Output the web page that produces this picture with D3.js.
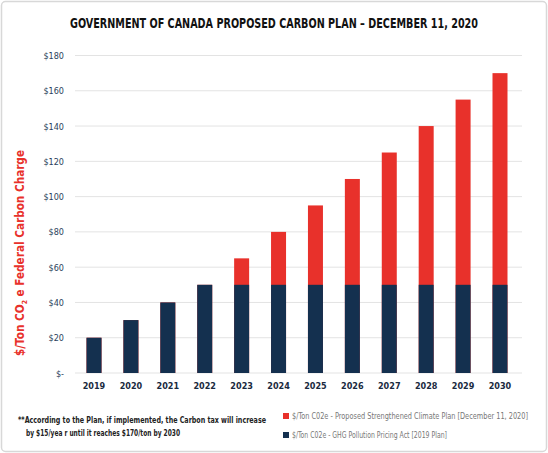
<!DOCTYPE html>
<html><head><meta charset="utf-8">
<script src="https://cdn.jsdelivr.net/npm/d3@7"></script>
<style>body{margin:0;background:#fff}text{font-family:"DejaVu Sans Condensed","DejaVu Sans",sans-serif}</style>
</head><body>
<svg id="chart" width="548" height="453"></svg>
<script>
// data
let years = ["2019","2020","2021","2022","2023","2024","2025","2026","2027","2028","2029","2030"];
let basePlan = [20,30,40,50,50,50,50,50,50,50,50,50];
let totalPlan = [20,30,40,50,65,80,95,110,125,140,155,170];
let yTicks = [0,20,40,60,80,100,120,140,160,180];

let navy = "#14304f", red = "#e8312b";
let svg = d3.select("svg#chart");

svg.append("rect").attr("x",1.5).attr("y",1.5).attr("width",545).attr("height",450)
  .attr("rx",4).attr("fill","#fff").attr("stroke","#d8d8d8").attr("stroke-width",1.5);

svg.append("text").attr("x",70).attr("y",28)
  .attr("font-size",14).attr("font-weight","bold").attr("fill","#111")
  .attr("textLength",408).attr("lengthAdjust","spacingAndGlyphs")
  .text("GOVERNMENT OF CANADA PROPOSED CARBON PLAN \u2013 DECEMBER 11, 2020");

let x = d3.scalePoint().domain(years).range([94,500]);
let y = d3.scaleLinear().domain([0,180]).range([373,55.5]);
let bw = 15;

// grid + y labels
let g = svg.append("g");
g.selectAll("line.grid").data(yTicks).join("line")
  .attr("x1",75).attr("x2",522).attr("y1",d=>y(d)).attr("y2",d=>y(d))
  .attr("stroke","#e3e3e3").attr("stroke-width",1);
g.selectAll("text.yl").data(yTicks).join("text")
  .attr("x",64).attr("y",d=>y(d)+3.5).attr("text-anchor","end")
  .attr("font-size",9).attr("fill","#2a3f5c")
  .text(d=>d===0?"$-":"$"+d);

// red (total) then navy (base)
svg.selectAll("rect.tot").data(years).join("rect")
  .attr("x",d=>x(d)-bw/2).attr("width",bw)
  .attr("y",(d,i)=>y(totalPlan[i])).attr("height",(d,i)=>y(0)-y(totalPlan[i]))
  .attr("fill",red);
svg.selectAll("rect.base").data(years).join("rect")
  .attr("x",d=>x(d)-bw/2).attr("width",bw)
  .attr("y",(d,i)=>y(basePlan[i])).attr("height",(d,i)=>y(0)-y(basePlan[i]))
  .attr("fill",navy);

svg.selectAll("text.xl").data(years).join("text")
  .attr("x",d=>x(d)).attr("y",389).attr("text-anchor","middle")
  .attr("font-size",9).attr("font-weight","bold").attr("fill","#1a2a40").text(d=>d);

// y axis title
let yt = svg.append("text").attr("transform","translate(24,356) rotate(-90)")
  .attr("font-size",12).attr("font-weight","bold").attr("fill",red)
  .attr("textLength",206).attr("lengthAdjust","spacingAndGlyphs");
yt.append("tspan").text("$/Ton CO");
yt.append("tspan").attr("font-size",7).attr("dy",3).text("2");
yt.append("tspan").attr("dy",-3).text(" e Federal Carbon Charge");

// footnote
svg.append("text").attr("x",18).attr("y",423).attr("font-size",9).attr("font-weight","bold").attr("fill","#222")
  .attr("textLength",248).attr("lengthAdjust","spacingAndGlyphs")
  .text("**According to the Plan, if implemented, the Carbon tax will increase");
svg.append("text").attr("x",26).attr("y",436).attr("font-size",9).attr("font-weight","bold").attr("fill","#222")
  .attr("textLength",154).attr("lengthAdjust","spacingAndGlyphs")
  .text("by $15/yea r until it reaches $170/ton by 2030");

// legend
let legend = [
  {c:red, t:"$/Ton C02e -  Proposed Strengthened Climate Plan [December 11, 2020]", y:419, w:236},
  {c:navy, t:"$/Ton C02e - GHG Pollution Pricing Act [2019 Plan]", y:438, w:155}
];
let lg = svg.selectAll("g.lg").data(legend).join("g").attr("transform",d=>"translate(283,"+d.y+")");
lg.append("rect").attr("x",0).attr("y",-6).attr("width",6).attr("height",6).attr("fill",d=>d.c);
lg.append("text").attr("x",9).attr("y",0).attr("font-size",8).attr("fill","#777")
  .attr("textLength",d=>d.w).attr("lengthAdjust","spacingAndGlyphs").text(d=>d.t);
</script>
</body></html>
